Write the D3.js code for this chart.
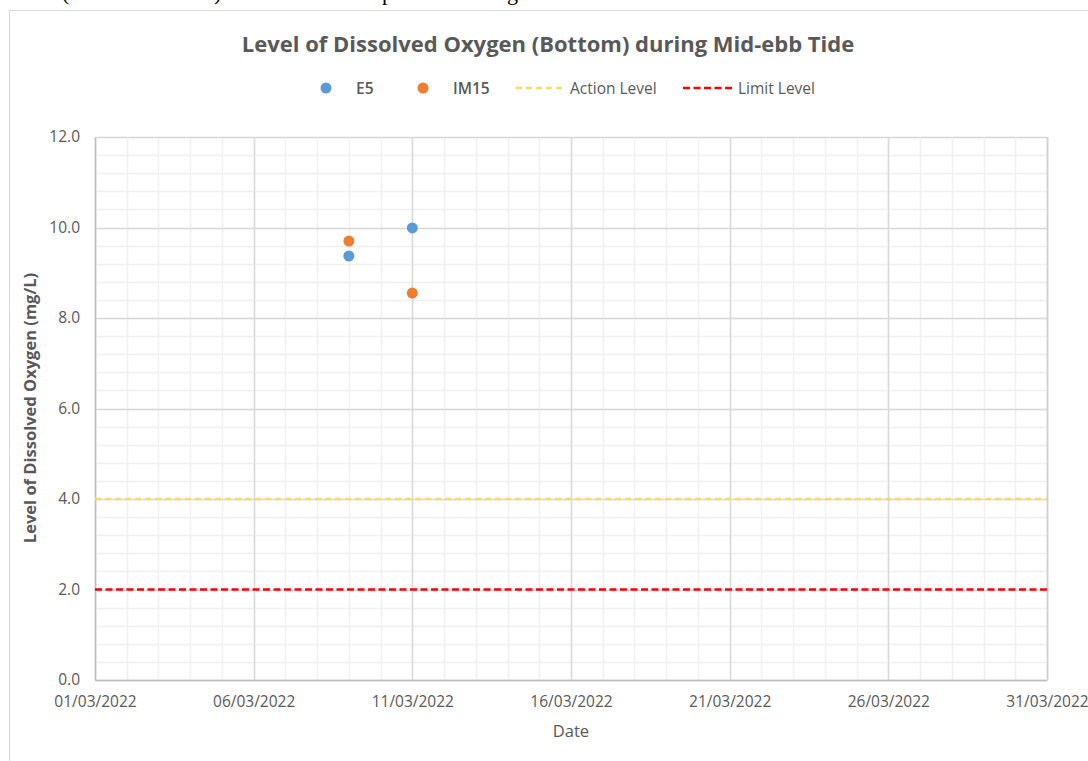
<!DOCTYPE html>
<html>
<head>
<meta charset="utf-8">
<script src="https://cdn.jsdelivr.net/npm/d3@7"></script>
<style>
  body { margin: 0; background: #fff; }
  svg { display: block; font-family: 'Open Sans', sans-serif; }
</style>
</head>
<body>
<script>
const sampleDates = ['2022-03-09', '2022-03-11']
const e5Values = [9.37, 9.99]
const im15Values = [9.70, 8.55]
const actionLevel = 4.0
const limitLevel = 2.0
const xTickDates = ['2022-03-01', '2022-03-06', '2022-03-11', '2022-03-16', '2022-03-21', '2022-03-26', '2022-03-31']
const yTicks = [0, 2, 4, 6, 8, 10, 12]

const w = 1088
const h = 761
const parse = d3.timeParse('%Y-%m-%d')
const fmt = d3.timeFormat('%d/%m/%Y')

const svg = d3.select('body').append('svg')
    .attr('width', w)
    .attr('height', h)

// bits of the document text cut off above the chart
const cutText = svg.append('text')
    .attr('y', 0)
    .style('font-family', "'Liberation Serif', serif")
    .style('font-size', '22px')
    .attr('fill', '#000')
;[['(', 62], [')', 214], ['p', 382], ['g', 507]].forEach(([c, cx]) => {
    cutText.append('tspan').attr('x', cx).text(c)
})

// chart frame
svg.append('rect')
    .attr('x', 9.5).attr('y', 10.5)
    .attr('width', 1100).attr('height', 800)
    .attr('fill', 'none')
    .attr('stroke', '#d9d9d9')

const x = d3.scaleTime()
    .domain([parse('2022-03-01'), parse('2022-03-31')])
    .range([95, 1047])

const y = d3.scaleLinear()
    .domain([0, 12])
    .range([680, 137])

const grid = svg.append('g')

// minor grid
const minorX = d3.timeDay.range(parse('2022-03-01'), d3.timeDay.offset(parse('2022-03-31'), 1))
const minorY = d3.range(0, 12.01, 0.4)

grid.selectAll('.minor-x')
    .data(minorX)
    .enter().append('line')
    .attr('x1', d => Math.round(x(d)) + 0.5)
    .attr('x2', d => Math.round(x(d)) + 0.5)
    .attr('y1', y(0)).attr('y2', y(12))
    .attr('stroke', '#f0f0f0')
    .attr('stroke-width', 1.5)

grid.selectAll('.minor-y')
    .data(minorY)
    .enter().append('line')
    .attr('x1', x.range()[0]).attr('x2', x.range()[1])
    .attr('y1', d => Math.round(y(d)) + 0.5)
    .attr('y2', d => Math.round(y(d)) + 0.5)
    .attr('stroke', '#f0f0f0')
    .attr('stroke-width', 1.5)

// major grid
grid.selectAll('.major-x')
    .data(xTickDates.map(parse))
    .enter().append('line')
    .attr('x1', d => Math.round(x(d)) + 0.5)
    .attr('x2', d => Math.round(x(d)) + 0.5)
    .attr('y1', y(0)).attr('y2', y(12))
    .attr('stroke', '#d9d9d9')
    .attr('stroke-width', 1.5)

grid.selectAll('.major-y')
    .data(yTicks)
    .enter().append('line')
    .attr('x1', x.range()[0]).attr('x2', x.range()[1])
    .attr('y1', d => Math.round(y(d)) + 0.5)
    .attr('y2', d => Math.round(y(d)) + 0.5)
    .attr('stroke', '#d9d9d9')
    .attr('stroke-width', 1.5)

// plot border
svg.append('line')
    .attr('x1', 1047.5).attr('x2', 1047.5)
    .attr('y1', y(12)).attr('y2', y(0))
    .attr('stroke', '#d0d0d0').attr('stroke-width', 1.5)

// axes
const xAxis = svg.append('g')
    .attr('transform', `translate(0, ${y(0)})`)
    .call(d3.axisBottom(x).tickValues(xTickDates.map(parse)).tickFormat(fmt).tickSize(0).tickPadding(16))
xAxis.select('.domain').attr('stroke', '#bfbfbf').attr('stroke-width', 1.5)
xAxis.selectAll('text')
    .style('font-family', "'Open Sans', sans-serif")
    .style('font-size', '15.5px')
    .attr('fill', '#595959')

const yAxis = svg.append('g')
    .attr('transform', `translate(${x.range()[0]}, 0)`)
    .call(d3.axisLeft(y).tickValues(yTicks).tickFormat(d3.format('.1f')).tickSize(0).tickPadding(15))
yAxis.select('.domain').attr('stroke', '#bfbfbf').attr('stroke-width', 1.5)
yAxis.selectAll('text')
    .style('font-family', "'Open Sans', sans-serif")
    .style('font-size', '15.5px')
    .attr('fill', '#595959')

// level lines
svg.append('line')
    .attr('x1', x.range()[0]).attr('x2', x.range()[1])
    .attr('y1', y(actionLevel)).attr('y2', y(actionLevel))
    .attr('stroke', '#ffd966')
    .attr('stroke-width', 2.5)
    .attr('stroke-dasharray', '6,4')

svg.append('line')
    .attr('x1', x.range()[0]).attr('x2', x.range()[1])
    .attr('y1', y(limitLevel)).attr('y2', y(limitLevel))
    .attr('stroke', '#ff0000')
    .attr('stroke-width', 2.5)
    .attr('stroke-dasharray', '7,3.5')

// points
const series = [
    { name: 'E5', color: '#5b9bd5', values: e5Values },
    { name: 'IM15', color: '#ed7d31', values: im15Values }
]

series.forEach(s => {
    svg.selectAll(null)
        .data(sampleDates.map((d, i) => ({ date: parse(d), value: s.values[i] })))
        .enter().append('circle')
        .attr('cx', d => x(d.date))
        .attr('cy', d => y(d.value))
        .attr('r', 5.5)
        .attr('fill', s.color)
})

// title
svg.append('text')
    .attr('x', 548)
    .attr('y', 52)
    .attr('text-anchor', 'middle')
    .style('font-size', '22px')
    .style('font-weight', 'bold')
    .attr('fill', '#595959')
    .text('Level of Dissolved Oxygen (Bottom) during Mid-ebb Tide')

// axis titles
svg.append('text')
    .attr('transform', 'translate(36, 408) rotate(-90)')
    .attr('text-anchor', 'middle')
    .style('font-size', '16.5px')
    .style('font-weight', 'bold')
    .attr('fill', '#595959')
    .text('Level of Dissolved Oxygen (mg/L)')

svg.append('text')
    .attr('x', 571)
    .attr('y', 737)
    .attr('text-anchor', 'middle')
    .style('font-size', '16.5px')
    .attr('fill', '#595959')
    .text('Date')

// legend
const legend = svg.append('g')
    .style('font-size', '15.5px')
    .attr('fill', '#595959')

legend.append('circle').attr('cx', 326).attr('cy', 88).attr('r', 5.5).attr('fill', series[0].color)
legend.append('text').attr('x', 356).attr('y', 93.5).style('font-weight', 600).text('E5')
legend.append('circle').attr('cx', 423).attr('cy', 88).attr('r', 5.5).attr('fill', series[1].color)
legend.append('text').attr('x', 453).attr('y', 93.5).style('font-weight', 600).text('IM15')

legend.append('line')
    .attr('x1', 516).attr('x2', 566).attr('y1', 88).attr('y2', 88)
    .attr('stroke', '#ffd966').attr('stroke-width', 2.5).attr('stroke-dasharray', '6,4')
legend.append('text').attr('x', 570).attr('y', 93.5).text('Action Level')

legend.append('line')
    .attr('x1', 683).attr('x2', 734).attr('y1', 88).attr('y2', 88)
    .attr('stroke', '#ff0000').attr('stroke-width', 2.5).attr('stroke-dasharray', '7,3.5')
legend.append('text').attr('x', 738).attr('y', 93.5).text('Limit Level')
</script>
</body>
</html>
